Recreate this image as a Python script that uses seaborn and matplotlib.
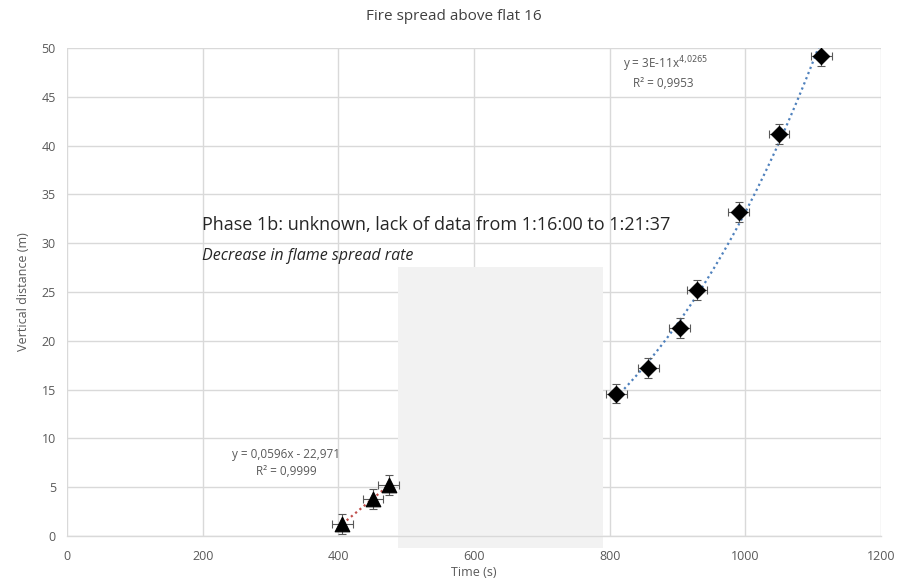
import numpy as np
import pandas as pd
import matplotlib
matplotlib.use("Agg")
import matplotlib.pyplot as plt
import seaborn as sns
from matplotlib.patches import Rectangle

# Data
tri_time = [406, 451, 474]
tri_dist = [1.25, 3.8, 5.2]
dia_time = [810, 857, 903, 929, 990, 1050, 1112]
dia_dist = [14.6, 17.2, 21.3, 25.2, 33.2, 41.2, 49.2]
x_err = 15
y_err = 1.0
gap_start, gap_end, gap_top = 488, 790, 27.6

x_ticks = [0, 200, 400, 600, 800, 1000, 1200]
y_ticks = [0, 5, 10, 15, 20, 25, 30, 35, 40, 45, 50]

sns.set_theme(style="white")
FONT = ["Open Sans", "DejaVu Sans"]
plt.rcParams["font.family"] = FONT

fig = plt.figure(figsize=(8.97, 5.84), dpi=100)
ax = fig.add_axes([0.0747, 0.0822, 0.9075, 0.8356])

gray_txt = "#595959"
grid_c = "#d9d9d9"

ax.set_xlim(0, 1200)
ax.set_ylim(0, 50)
ax.set_xticks(x_ticks)
ax.set_yticks(y_ticks)
ax.grid(True, color=grid_c, linewidth=1.0, zorder=0)
ax.set_axisbelow(True)
for s in ["top", "right", "left"]:
    ax.spines[s].set_visible(False)
ax.spines["bottom"].set_color(grid_c)
ax.spines["bottom"].set_linewidth(1.0)
ax.tick_params(axis="both", colors=gray_txt, labelsize=9, length=0, pad=8)
ax.tick_params(axis="x", length=4, color=grid_c, pad=6)

# Gap shading
rect = Rectangle((gap_start, -1.2), gap_end - gap_start, gap_top + 1.2,
                 facecolor="#f2f2f2", edgecolor="none", zorder=1, clip_on=False)
ax.add_patch(rect)

# Trend lines fitted from the data
lin = np.polyfit(tri_time, tri_dist, 1)
xl = np.linspace(min(tri_time), max(tri_time), 50)
sns.lineplot(x=xl, y=np.polyval(lin, xl), ax=ax, color="#c0504d",
             linestyle=(0, (1, 1.5)), linewidth=1.6, zorder=2)
pw = np.polyfit(np.log(dia_time), np.log(dia_dist), 1)
xp = np.linspace(min(dia_time), max(dia_time), 100)
sns.lineplot(x=xp, y=np.exp(pw[1]) * xp ** pw[0], ax=ax, color="#4f81bd",
             linestyle=(0, (1, 1.5)), linewidth=1.6, zorder=2)

# Error bars
ax.errorbar(tri_time, tri_dist, xerr=x_err, yerr=y_err, fmt="none",
            ecolor="#595959", elinewidth=0.8, capsize=3, capthick=0.8, zorder=3)
ax.errorbar(dia_time, dia_dist, xerr=x_err, yerr=y_err, fmt="none",
            ecolor="#595959", elinewidth=0.8, capsize=3, capthick=0.8, zorder=3)

# Markers
df_t = pd.DataFrame({"t": tri_time, "d": tri_dist})
df_d = pd.DataFrame({"t": dia_time, "d": dia_dist})
sns.scatterplot(data=df_t, x="t", y="d", ax=ax, marker="^", s=110,
                color="black", edgecolor="black", zorder=4)
sns.scatterplot(data=df_d, x="t", y="d", ax=ax, marker="D", s=70,
                color="black", edgecolor="black", zorder=4)

# Annotations
ax.text(323, 8.3, "y = 0,0596x - 22,971", ha="center", va="center",
        fontsize=8.5, color=gray_txt, zorder=5)
ax.text(323, 6.6, "R² = 0,9999", ha="center", va="center",
        fontsize=8.5, color=gray_txt, zorder=5)
ax.text(820, 48.3, "y = 3E-11x$^{4{,}0265}$", ha="left", va="center",
        fontsize=8.5, color=gray_txt, zorder=5)
ax.text(834, 46.4, "R² = 0,9953", ha="left", va="center",
        fontsize=8.5, color=gray_txt, zorder=5)

ax.text(199, 31.9, "Phase 1b: unknown, lack of data from 1:16:00 to 1:21:37",
        ha="left", va="center", fontsize=13, color="#262626", zorder=5)
ax.text(199, 28.7, "Decrease in flame spread rate", ha="left", va="center",
        fontsize=11.5, style="italic", color="#262626", zorder=5)

ax.set_xlabel("Time (s)", fontsize=9, color=gray_txt, labelpad=2)
ax.set_ylabel("Vertical distance (m)", fontsize=9, color=gray_txt, labelpad=8)
fig.text(0.506, 0.972, "Fire spread above flat 16", ha="center", va="center",
         fontsize=11, color="#404040")

fig.savefig("out.png", dpi=100)
